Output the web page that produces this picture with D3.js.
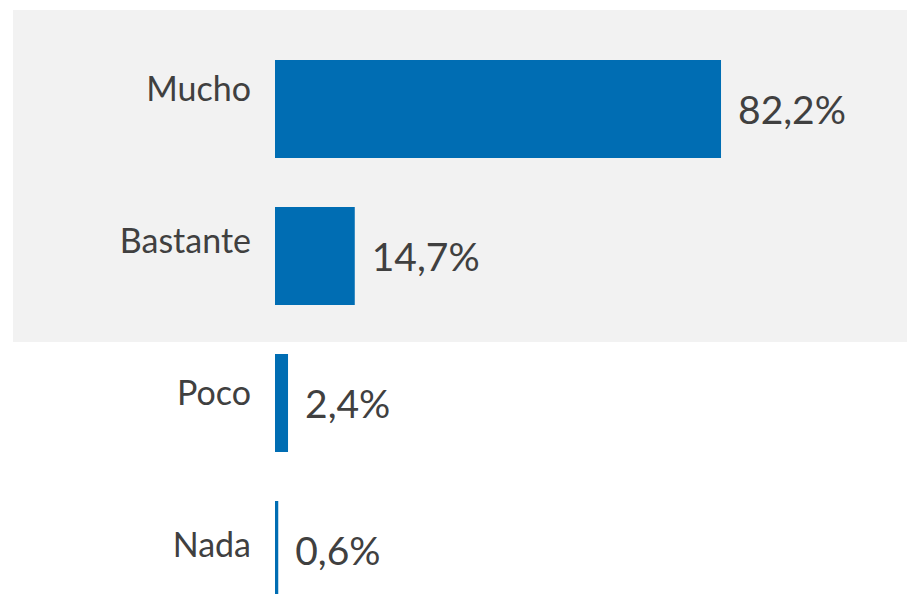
<!DOCTYPE html>
<html><head><meta charset="utf-8">
<script src="https://cdn.jsdelivr.net/npm/d3@7"></script>
<style>html,body{margin:0;padding:0;background:#fff;}svg{display:block;}</style>
</head><body>
<svg id="c" width="907" height="594"></svg>
<script>
const categories = ["Mucho", "Bastante", "Poco", "Nada"];
const values = [82.2, 14.7, 2.4, 0.6];
const valueLabels = ["82,2%", "14,7%", "2,4%", "0,6%"];

const svg = d3.select("#c");
const W = 907, H = 594;

// highlighted background band (covers first two categories)
svg.append("rect").attr("x", 13).attr("y", 10).attr("width", W - 13).attr("height", 332).attr("fill", "#f2f2f2");

const x = d3.scaleLinear().domain([0, 100]).range([275, 275 + 542.6]);
const y = d3.scaleBand().domain(categories).range([35.5, 623.5]).paddingInner(1/3).paddingOuter(1/6);
// category labels sit on a slightly wider spacing than the bars
const yLab = d3.scalePoint().domain(categories).range([101, 557]);

const data = categories.map((c, i) => ({c, v: values[i], l: valueLabels[i]}));

svg.selectAll("rect.bar").data(data).join("rect")
  .attr("class", "bar")
  .attr("x", x(0))
  .attr("y", d => y(d.c))
  .attr("width", d => x(d.v) - x(0))
  .attr("height", y.bandwidth())
  .attr("fill", "#006db3");

svg.selectAll("text.cat").data(data).join("text")
  .attr("class", "cat")
  .attr("x", 251)
  .attr("y", d => yLab(d.c))
  .attr("text-anchor", "end")
  .attr("font-family", "Lato, 'Open Sans', sans-serif")
  .attr("font-size", 34)
  .attr("fill", "#404040")
  .text(d => d.c);

svg.selectAll("text.val").data(data).join("text")
  .attr("class", "val")
  .attr("x", d => x(d.v) + 17)
  .attr("y", d => y(d.c) + y.bandwidth() / 2 + 15)
  .attr("font-family", "Lato, 'Open Sans', sans-serif")
  .attr("font-size", 39)
  .attr("fill", "#404040")
  .text(d => d.l);
</script>
</body></html>
